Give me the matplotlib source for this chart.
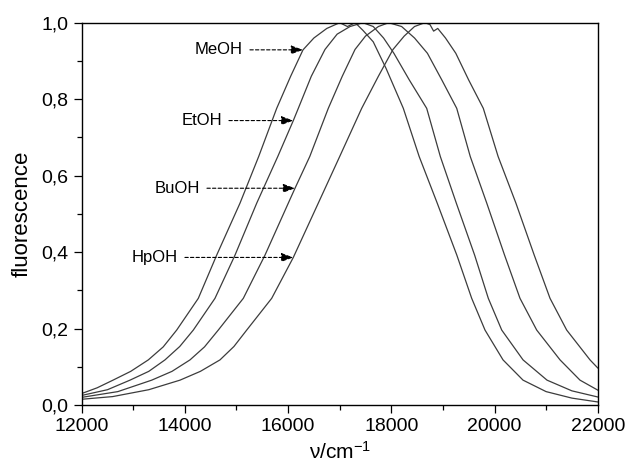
import matplotlib
matplotlib.use("Agg")
import matplotlib.pyplot as plt

# spectra (wavenumber in cm-1, normalised fluorescence)
meoh_x = [12000, 12300, 12607, 12950, 13291, 13580, 13841, 14260, 14616, 15068, 15430,
          15779, 16050, 16289, 16500, 16750, 17000, 17150, 17300, 17450, 17650, 17900,
          18233, 18540, 18890, 19270, 19558, 19816, 20165, 20553, 21000, 21500, 22000]
meoh_y = [0.030, 0.045, 0.065, 0.088, 0.118, 0.152, 0.196, 0.279, 0.392, 0.528, 0.650,
          0.776, 0.860, 0.929, 0.960, 0.985, 1.000, 0.990, 1.000, 0.980, 0.950, 0.880,
          0.776, 0.650, 0.528, 0.392, 0.279, 0.196, 0.118, 0.065, 0.035, 0.018, 0.008]

etoh_x = [12000, 12500, 12936, 13300, 13614, 13900, 14163, 14583, 14971, 15392, 15800,
          16101, 16198, 16450, 16715, 16950, 17200, 17450, 17650, 17850, 18050, 18350,
          18686, 18950, 19260, 19615, 19880, 20140, 20553, 21018, 21500, 22000]
etoh_y = [0.025, 0.040, 0.065, 0.088, 0.118, 0.153, 0.196, 0.279, 0.392, 0.528, 0.650,
          0.744, 0.776, 0.860, 0.930, 0.970, 0.990, 1.000, 0.990, 0.960, 0.920, 0.850,
          0.776, 0.650, 0.528, 0.392, 0.279, 0.196, 0.118, 0.065, 0.037, 0.021]

buoh_x = [12000, 12700, 13357, 13750, 14099, 14380, 14647, 15132, 15552, 16004, 16134,
          16420, 16779, 17050, 17297, 17500, 17750, 17950, 18200, 18450, 18700, 18980,
          19268, 19530, 19850, 20195, 20494, 20818, 21270, 21657, 22000]
buoh_y = [0.020, 0.035, 0.065, 0.088, 0.118, 0.152, 0.196, 0.279, 0.392, 0.528, 0.567,
          0.650, 0.776, 0.860, 0.930, 0.965, 0.990, 1.000, 0.990, 0.960, 0.920, 0.850,
          0.776, 0.650, 0.528, 0.392, 0.279, 0.196, 0.118, 0.065, 0.039]

hpoh_x = [12000, 12600, 13300, 13905, 14300, 14680, 14950, 15198, 15682, 16101, 16585,
          17000, 17426, 17750, 18033, 18250, 18450, 18650, 18750, 18820, 18900, 19050,
          19250, 19500, 19783, 20070, 20415, 20770, 21076, 21399, 21851, 22000]
hpoh_y = [0.015, 0.022, 0.040, 0.065, 0.088, 0.118, 0.153, 0.196, 0.279, 0.386, 0.528,
          0.650, 0.776, 0.860, 0.930, 0.965, 0.990, 1.000, 0.995, 0.978, 0.985, 0.960,
          0.920, 0.850, 0.776, 0.650, 0.528, 0.392, 0.279, 0.196, 0.118, 0.097]

labels = ["MeOH", "EtOH", "BuOH", "HpOH"]
label_y = [0.929, 0.744, 0.567, 0.386]
arrow_tip_x = [16289, 16101, 16134, 16101]
label_right_x = [15126, 14719, 14293, 13866]

xticks = [12000, 14000, 16000, 18000, 20000, 22000]
yticks = [0.0, 0.2, 0.4, 0.6, 0.8, 1.0]
ytick_labels = ["0,0", "0,2", "0,4", "0,6", "0,8", "1,0"]

plt.rcParams['font.family'] = ['Liberation Sans Narrow', 'Liberation Sans', 'DejaVu Sans']
plt.rcParams['mathtext.default'] = 'regular'

fig = plt.figure(figsize=(6.26, 4.70), dpi=100)
ax = fig.add_axes([0.1305, 0.1383, 0.8243, 0.8134])

line_color = '#3c3c3c'
for xs, ys in [(meoh_x, meoh_y), (etoh_x, etoh_y), (buoh_x, buoh_y), (hpoh_x, hpoh_y)]:
    ax.plot(xs, ys, color=line_color, lw=0.9)

for lab, y, tip, tx in zip(labels, label_y, arrow_tip_x, label_right_x):
    ax.annotate(lab, xy=(tip, y), xytext=(tx, y), ha='right', va='center',
                fontsize=12, family=['Liberation Sans', 'DejaVu Sans'],
                arrowprops=dict(arrowstyle='-|>,head_length=0.6,head_width=0.22',
                                linestyle=(0, (3, 2)), color='black', lw=0.8,
                                shrinkA=3, shrinkB=0))

ax.set_xlim(12000, 22000)
ax.set_ylim(0, 1.0)
ax.set_xticks(xticks)
ax.set_xticks(range(13000, 22000, 2000), minor=True)
ax.set_yticks(yticks)
ax.set_yticklabels(ytick_labels)
ax.set_yticks([0.1, 0.3, 0.5, 0.7, 0.9], minor=True)
ax.tick_params(which='major', direction='out', length=6, width=0.9, labelsize=14,
               top=False, right=False)
ax.tick_params(which='minor', direction='out', length=3.5, width=0.9,
               top=False, right=False)
for s in ax.spines.values():
    s.set_linewidth(1.0)

ax.set_xlabel("ν/cm$^{-1}$", fontsize=15, labelpad=4)
ax.set_ylabel("fluorescence", fontsize=16, family=['Liberation Sans', 'DejaVu Sans'],
              labelpad=6)

fig.savefig("out.png", dpi=100)
